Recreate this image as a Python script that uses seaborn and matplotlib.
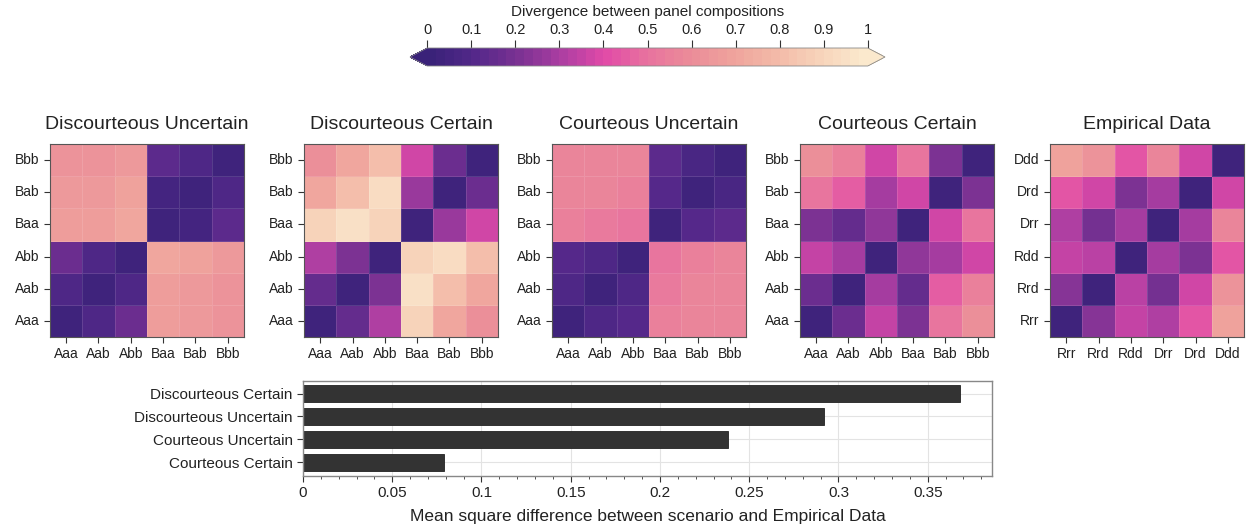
import numpy as np
import pandas as pd
import seaborn as sns
import matplotlib
matplotlib.use("Agg")
import matplotlib.pyplot as plt
from matplotlib.colors import LinearSegmentedColormap, ListedColormap, Normalize
from matplotlib.cm import ScalarMappable
from matplotlib.ticker import MultipleLocator, FuncFormatter

sns.set_theme(style="ticks")
plt.rcParams["font.family"] = ["Liberation Sans", "DejaVu Sans"]

# labels
labels_ab = ["Aaa", "Aab", "Abb", "Baa", "Bab", "Bbb"]
labels_emp = ["Rrr", "Rrd", "Rdd", "Drr", "Drd", "Ddd"]
panel_titles = ["Discourteous Uncertain", "Discourteous Certain",
                "Courteous Uncertain", "Courteous Certain", "Empirical Data"]

# divergence matrices (row/col order as labels, row 0 drawn at bottom)
disc_uncertain = [
    [0.02, 0.08, 0.16, 0.66, 0.64, 0.62],
    [0.08, 0.02, 0.08, 0.67, 0.65, 0.62],
    [0.16, 0.08, 0.03, 0.70, 0.69, 0.65],
    [0.66, 0.67, 0.70, 0.03, 0.05, 0.12],
    [0.64, 0.65, 0.69, 0.05, 0.03, 0.08],
    [0.62, 0.62, 0.65, 0.12, 0.08, 0.03],
]
disc_certain = [
    [0.02, 0.15, 0.30, 0.88, 0.70, 0.60],
    [0.15, 0.02, 0.20, 0.95, 0.80, 0.70],
    [0.30, 0.20, 0.02, 0.88, 0.92, 0.80],
    [0.88, 0.95, 0.88, 0.02, 0.26, 0.36],
    [0.70, 0.80, 0.92, 0.26, 0.02, 0.17],
    [0.60, 0.70, 0.80, 0.36, 0.17, 0.02],
]
court_uncertain = [
    [0.03, 0.08, 0.10, 0.55, 0.58, 0.58],
    [0.08, 0.03, 0.08, 0.52, 0.57, 0.58],
    [0.10, 0.08, 0.03, 0.50, 0.55, 0.57],
    [0.55, 0.52, 0.50, 0.03, 0.10, 0.12],
    [0.58, 0.57, 0.55, 0.10, 0.03, 0.07],
    [0.58, 0.58, 0.57, 0.12, 0.07, 0.03],
]
court_certain = [
    [0.03, 0.16, 0.35, 0.21, 0.50, 0.60],
    [0.16, 0.03, 0.28, 0.14, 0.44, 0.55],
    [0.35, 0.28, 0.03, 0.25, 0.29, 0.37],
    [0.21, 0.14, 0.25, 0.03, 0.37, 0.50],
    [0.50, 0.44, 0.29, 0.37, 0.03, 0.20],
    [0.60, 0.55, 0.37, 0.50, 0.20, 0.03],
]
empirical = [
    [0.03, 0.22, 0.34, 0.30, 0.42, 0.68],
    [0.22, 0.03, 0.33, 0.18, 0.36, 0.63],
    [0.34, 0.33, 0.03, 0.29, 0.20, 0.42],
    [0.30, 0.18, 0.29, 0.03, 0.29, 0.57],
    [0.42, 0.36, 0.20, 0.29, 0.03, 0.36],
    [0.68, 0.63, 0.42, 0.57, 0.36, 0.03],
]
panel_data = [disc_uncertain, disc_certain, court_uncertain, court_certain, empirical]
panel_labels = [labels_ab, labels_ab, labels_ab, labels_ab, labels_emp]

# mean square difference vs empirical
scenarios = ["Discourteous Certain", "Discourteous Uncertain",
             "Courteous Uncertain", "Courteous Certain"]
msd = [0.368, 0.292, 0.238, 0.079]

# colormap: indigo -> hot pink -> cream, in 50 steps
base = LinearSegmentedColormap.from_list("div", [
    (0.00, "#3a2279"), (0.10, "#54288a"), (0.20, "#7a3192"),
    (0.30, "#ac3ea2"), (0.40, "#e14aa8"), (0.50, "#e8739e"),
    (0.60, "#eb8c99"), (0.70, "#efa39c"), (0.80, "#f3baa8"),
    (0.90, "#f7d3ba"), (1.00, "#fbe9cd")])
cmap = ListedColormap(base(np.linspace(0, 1, 50)))
norm = Normalize(0, 1)

fig = plt.figure(figsize=(12.51, 5.31), dpi=100)
W, H = 1251, 531

def px(x0, y0, x1, y1):
    return [x0 / W, 1 - y1 / H, (x1 - x0) / W, (y1 - y0) / H]

lefts = [50, 304, 552, 800, 1050]
for left, data, labs, title in zip(lefts, panel_data, panel_labels, panel_titles):
    ax = fig.add_axes(px(left, 144, left + 194, 337))
    df = pd.DataFrame(data, index=labs, columns=labs)
    sns.heatmap(df, ax=ax, cmap=cmap, vmin=0, vmax=1, cbar=False, square=False,
                linewidths=0.4, linecolor=(1, 1, 1, 0.12))
    ax.invert_yaxis()
    ax.set_title(title, fontsize=14, pad=11, color="#222222")
    ax.tick_params(axis="both", labelsize=10, length=4, width=0.8, color="#333333",
                   labelcolor="#222222")
    ax.tick_params(axis="x", rotation=0)
    ax.tick_params(axis="y", rotation=0)
    for s in ax.spines.values():
        s.set_visible(True)
        s.set_color("#555555")
        s.set_linewidth(0.8)

# colorbar
cax = fig.add_axes(px(410, 48, 885, 66))
cb = fig.colorbar(ScalarMappable(norm=norm, cmap=cmap), cax=cax,
                  orientation="horizontal", extend="both", extendfrac=0.039)
cb.set_ticks(np.arange(0, 1.01, 0.1))
cb.set_ticklabels(["0", "0.1", "0.2", "0.3", "0.4", "0.5", "0.6", "0.7", "0.8", "0.9", "1"])
cax.xaxis.set_ticks_position("top")
cax.xaxis.set_label_position("top")
cax.tick_params(labelsize=10.5, length=6, width=0.8, color="#333333", labelcolor="#222222", pad=2)
cb.set_label("Divergence between panel compositions", fontsize=11, labelpad=5, color="#222222")
cb.outline.set_edgecolor("#888888")
cb.outline.set_linewidth(0.6)

# bar chart
bx = fig.add_axes(px(303, 381, 992, 476))
bdf = pd.DataFrame({"scenario": scenarios, "msd": msd})
sns.barplot(data=bdf, x="msd", y="scenario", ax=bx, color="#333333", saturation=1,
            width=0.72, edgecolor="#222222", linewidth=0.6)
bx.set_xlim(0, 0.386)
bx.set_ylim(3.6, -0.55)
bx.set_ylabel("")
bx.set_xlabel("Mean square difference between scenario and Empirical Data",
              fontsize=12.5, color="#222222", labelpad=6)
bx.xaxis.set_major_locator(MultipleLocator(0.05))
bx.xaxis.set_minor_locator(MultipleLocator(0.01))
bx.xaxis.set_major_formatter(FuncFormatter(lambda v, p: "0" if abs(v) < 1e-9 else f"{v:.2f}".rstrip("0")))
bx.grid(True, axis="both", which="major", color="#e3e3e3", linewidth=0.8)
bx.set_axisbelow(True)
bx.tick_params(axis="both", which="major", labelsize=11, length=4, width=0.8,
               color="#333333", labelcolor="#222222")
bx.tick_params(axis="x", which="minor", length=2.5, width=0.6, color="#333333")
for s in bx.spines.values():
    s.set_color("#888888")
    s.set_linewidth(1.0)

fig.savefig("out.png", dpi=100)
